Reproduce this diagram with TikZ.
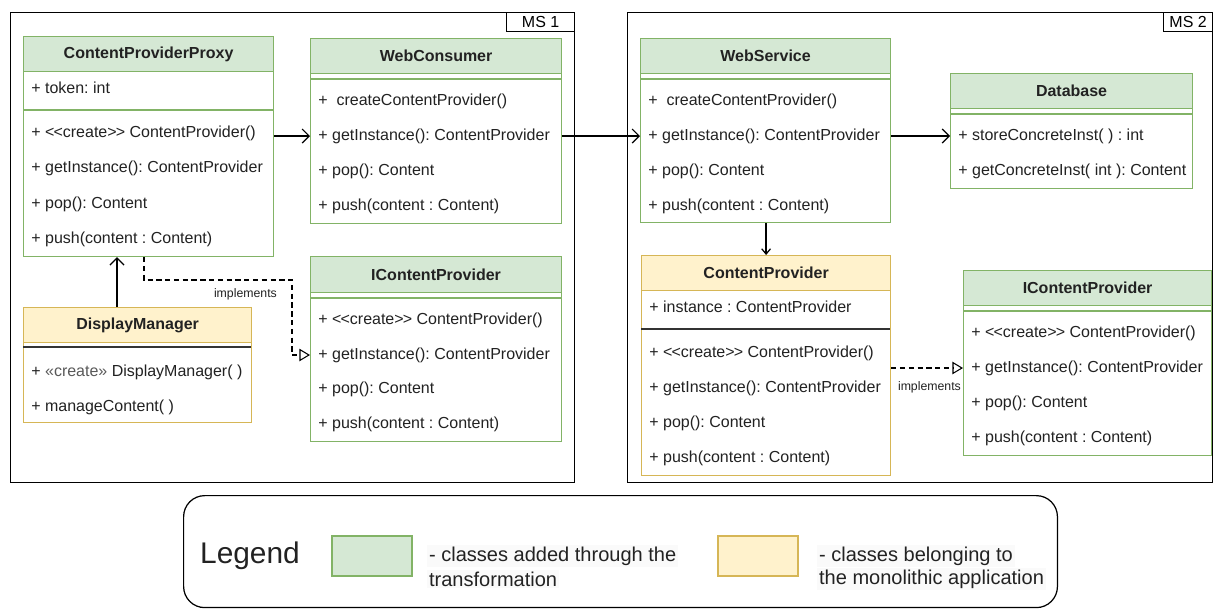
\documentclass[tikz,border=0pt]{standalone}
\usepackage{fontspec}
\setmainfont{Liberation Sans}
\usetikzlibrary{arrows.meta}
\frenchspacing

\definecolor{grnfill}{HTML}{D5E8D4}
\definecolor{grnline}{HTML}{82B366}
\definecolor{ylwfill}{HTML}{FFF2CC}
\definecolor{ylwline}{HTML}{D6B656}
\definecolor{txt}{HTML}{222222}

\newcommand{\memfont}{\fontsize{9.1}{11}\selectfont}
\newcommand{\hdrfont}{\fontsize{9.1}{11}\selectfont\bfseries}

\begin{document}
\begin{tikzpicture}[x=0.02cm, y=-0.02cm, >={Straight Barb[length=4pt,width=8pt]},
    frame/.style={draw, line width=0.8pt},
    classbox/.style={draw, anchor=north west, inner sep=0, line width=0.7pt, fill=white},
    hdr/.style={anchor=north west, inner sep=0, line width=0.7pt, font=\hdrfont, text=txt},
    member/.style={anchor=west, inner sep=0, font=\memfont, text=txt},
    impl/.style={dash pattern=on 3pt off 2pt, -{Triangle[open, length=6pt, width=7pt]}},
    note/.style={inner sep=1pt, font=\fontsize{7}{8}\selectfont, text=txt},
    legtext/.style={fill=black!2, inner sep=1pt, anchor=west, font=\fontsize{11.4}{13}\selectfont, text=txt}]
    \useasboundingbox (0,0) rectangle (1214,610);

    % Microservice 1
    \node[frame, anchor=north west, minimum width=11.28cm, minimum height=9.4cm] (ms1) at (10,12) {};
    \node[frame, anchor=north east, minimum width=1.36cm, minimum height=0.38cm, inner sep=0, font=\memfont] (ms1lbl) at (ms1.north east) {MS 1};

    % ContentProviderProxy
    \node[classbox, draw=grnline, minimum width=5cm, minimum height=4.4cm] (cpp) at (23,36) {};
    \node[hdr, fill=grnfill, draw=grnline, minimum width=5cm, minimum height=0.7cm] (cpph) at (23,36) {ContentProviderProxy};
    \node[member] (cppa1) at (31,88) {+ token: int};
    \draw[grnline, line width=0.7pt] (23,110) -- (273,110);
    \node[member] (cppm1) at (31,133) {+ <\kern-.5pt<create>\kern-.5pt> ContentProvider()};
    \node[member] (cppm2) at (31,168) {+ getInstance(): ContentProvider};
    \node[member] (cppm3) at (31,204) {+ pop(): Content};
    \node[member] (cppm4) at (31,239) {+ push(content : Content)};

    % WebConsumer
    \node[classbox, draw=grnline, minimum width=5.02cm, minimum height=3.7cm] (wc) at (310,38) {};
    \node[hdr, fill=grnfill, draw=grnline, minimum width=5.02cm, minimum height=0.7cm] (wch) at (310,38) {WebConsumer};
    \draw[grnline, line width=0.7pt] (310,79) -- (561,79);
    \node[member] (wcm1) at (318,101) {+ \ createContentProvider()};
    \node[member] (wcm2) at (318,136) {+ getInstance(): ContentProvider};
    \node[member] (wcm3) at (318,171) {+ pop(): Content};
    \node[member] (wcm4) at (318,206) {+ push(content : Content)};

    % IContentProvider (MS 1)
    \node[classbox, draw=grnline, minimum width=5.02cm, minimum height=3.7cm] (icpa) at (310,256) {};
    \node[hdr, fill=grnfill, draw=grnline, minimum width=5.02cm, minimum height=0.72cm] (icpah) at (310,256) {IContentProvider};
    \draw[grnline, line width=0.7pt] (310,298) -- (561,298);
    \node[member] (icpam1) at (318,320) {+ <\kern-.5pt<create>\kern-.5pt> ContentProvider()};
    \node[member] (icpam2) at (318,355) {+ getInstance(): ContentProvider};
    \node[member] (icpam3) at (318,389) {+ pop(): Content};
    \node[member] (icpam4) at (318,424) {+ push(content : Content)};

    % DisplayManager
    \node[classbox, draw=ylwline, minimum width=4.56cm, minimum height=2.3cm] (dm) at (23,307) {};
    \node[hdr, fill=ylwfill, draw=ylwline, minimum width=4.56cm, minimum height=0.7cm] (dmh) at (23,307) {DisplayManager};
    \draw[black!80, line width=1pt] (23,347) -- (251,347);
    \node[member] (dmm1) at (31,372) {+ \textcolor{black!65}{«create»} DisplayManager( )};
    \node[member] (dmm2) at (31,407) {+ manageContent( )};

    % Microservice 2
    \node[frame, anchor=north west, minimum width=11.7cm, minimum height=9.4cm] (ms2) at (627,12) {};
    \node[frame, anchor=north east, minimum width=0.98cm, minimum height=0.38cm, inner sep=0, font=\memfont] (ms2lbl) at (ms2.north east) {MS 2};

    % WebService
    \node[classbox, draw=grnline, minimum width=5cm, minimum height=3.68cm] (ws) at (640,38) {};
    \node[hdr, fill=grnfill, draw=grnline, minimum width=5cm, minimum height=0.7cm] (wsh) at (640,38) {WebService};
    \draw[grnline, line width=0.7pt] (640,79) -- (890,79);
    \node[member] (wsm1) at (648,101) {+ \ createContentProvider()};
    \node[member] (wsm2) at (648,136) {+ getInstance(): ContentProvider};
    \node[member] (wsm3) at (648,171) {+ pop(): Content};
    \node[member] (wsm4) at (648,206) {+ push(content : Content)};

    % Database
    \node[classbox, draw=grnline, minimum width=4.84cm, minimum height=2.3cm] (db) at (950,73) {};
    \node[hdr, fill=grnfill, draw=grnline, minimum width=4.84cm, minimum height=0.7cm] (dbh) at (950,73) {Database};
    \draw[grnline, line width=0.7pt] (950,114) -- (1192,114);
    \node[member] (dbm1) at (958,136) {+ storeConcreteInst( ) : int};
    \node[member] (dbm2) at (958,171) {+ getConcreteInst( int ): Content};

    % ContentProvider
    \node[classbox, draw=ylwline, minimum width=4.98cm, minimum height=4.4cm] (cp) at (641,255) {};
    \node[hdr, fill=ylwfill, draw=ylwline, minimum width=4.98cm, minimum height=0.7cm] (cph) at (641,255) {ContentProvider};
    \node[member] (cpa1) at (649,307) {+ instance : ContentProvider};
    \draw[black!80, line width=1pt] (641,329) -- (890,329);
    \node[member] (cpm1) at (649,353) {+ <\kern-.5pt<create>\kern-.5pt> ContentProvider()};
    \node[member] (cpm2) at (649,388) {+ getInstance(): ContentProvider};
    \node[member] (cpm3) at (649,423) {+ pop(): Content};
    \node[member] (cpm4) at (649,458) {+ push(content : Content)};

    % IContentProvider (MS 2)
    \node[classbox, draw=grnline, minimum width=4.96cm, minimum height=3.7cm] (icpb) at (963,270) {};
    \node[hdr, fill=grnfill, draw=grnline, minimum width=4.96cm, minimum height=0.7cm] (icpbh) at (963,270) {IContentProvider};
    \draw[grnline, line width=0.7pt] (963,311) -- (1211,311);
    \node[member] (icpbm1) at (971,333) {+ <\kern-.5pt<create>\kern-.5pt> ContentProvider()};
    \node[member] (icpbm2) at (971,368) {+ getInstance(): ContentProvider};
    \node[member] (icpbm3) at (971,403) {+ pop(): Content};
    \node[member] (icpbm4) at (971,438) {+ push(content : Content)};

    % connectors
    \coordinate (dmup) at (117,0);
    \coordinate (implA) at (144,280);
    \coordinate (implB) at (292,280);
    \draw[->, line width=0.7pt] (dmh.north -| dmup) -- (cpp.south -| dmup);
    \draw[->, line width=0.7pt] (cpp.east |- wcm2) -- (wc.west |- wcm2);
    \draw[->, line width=0.7pt] (wc.east |- wcm2) -- (ws.west |- wsm2);
    \draw[->, line width=0.7pt] (ws.east |- wsm2) -- (db.west |- dbm1);
    \draw[-{Straight Barb[length=3pt,width=5pt]}, line width=0.7pt] (ws.south -| cph.north) -- (cph.north);
    \draw[impl, line width=0.6pt] (cpp.south -| implA) -- (implA) -- (implB) |- (icpa.west |- icpam2);
    \node[note, anchor=east] (implbl1) at (279,294) {implements};
    \draw[impl, line width=0.6pt] (cp.east |- icpbm2) -- (icpb.west |- icpbm2);
    \node[note, anchor=east] (implbl2) at (963,387) {implements};

    % legend
    \node[draw, line width=0.7pt, rounded corners=12pt, anchor=north west, minimum width=17.48cm, minimum height=2.24cm] (legend) at (183,495) {};
    \node[font=\fontsize{17}{20}\selectfont, text=txt, inner sep=0] (legtitle) at (250,556) {Legend};
    \node[draw=grnline, fill=grnfill, line width=0.7pt, minimum width=1.6cm, minimum height=0.8cm] (legg) at (372,556) {};
    \node[legtext] (leggt1) at (427,556) {- classes added through the};
    \node[legtext] (leggt2) at (427,579) {transformation};
    \node[draw=ylwline, fill=ylwfill, line width=0.7pt, minimum width=1.6cm, minimum height=0.8cm] (legy) at (758,556) {};
    \node[legtext] (legyt1) at (817,556) {- classes belonging to};
    \node[legtext] (legyt2) at (817,579) {the monolithic application};
\end{tikzpicture}
\end{document}
